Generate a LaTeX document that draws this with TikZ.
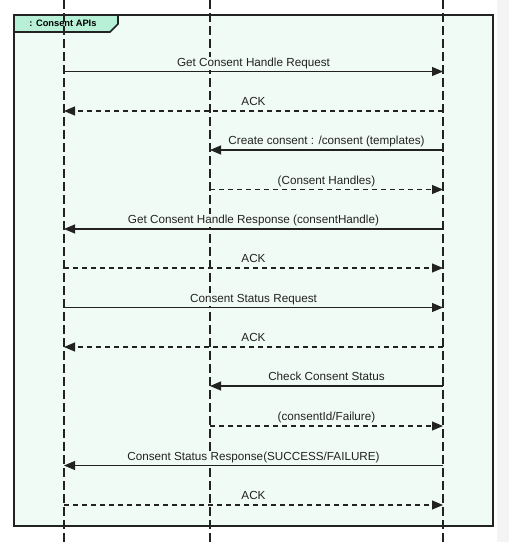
\documentclass[tikz,border=0pt]{standalone}
\usepackage{fontspec}
\setmainfont{Liberation Sans}
\usetikzlibrary{arrows.meta}
\definecolor{framefill}{HTML}{F1FBF6}
\definecolor{tabfill}{HTML}{B7F0D7}
\definecolor{edgegray}{HTML}{F4F4F4}
\definecolor{linedark}{HTML}{222222}
\begin{document}
\begin{tikzpicture}[x=1pt,y=-1pt,
	lifeline/.style={linedark,line width=1.1pt,dash pattern=on 9pt off 4pt},
	msg/.style={linedark,line width=1.1pt,-{Triangle[length=11pt,width=9pt]}},
	reply/.style={msg,dash pattern=on 5pt off 4pt},
	lbl/.style={anchor=base,yshift=5.3pt,inner sep=1pt,fill=framefill,font=\fontsize{11.7}{13}\selectfont}]
	\useasboundingbox (0,0) rectangle (509,542);
	\fill [white] (0,0) rectangle (509,542);
	\fill [edgegray] (497,0) rectangle (509,542);
	% frame and tab
	\draw [linedark,line width=2pt,fill=framefill] (14,15) rectangle (493,526);
	\draw [linedark,line width=1.6pt,fill=tabfill] (14,15) -- (118,15) -- (118,24) -- (110,32) -- (14,32) -- cycle;
	\node [font=\bfseries\fontsize{9.3}{11}\selectfont] (tab) at (63,23.5) {: Consent APIs};
	% lifelines
	\coordinate (At) at (64,0);  \coordinate (Ab) at (64,542);
	\coordinate (Bt) at (210,0); \coordinate (Bb) at (210,542);
	\coordinate (Ct) at (443,0); \coordinate (Cb) at (443,542);
	\draw [lifeline] (At) -- (Ab);
	\draw [lifeline] (Bt) -- (Bb);
	\draw [lifeline] (Ct) -- (Cb);
	% message ends
	\coordinate (A1) at (64,71.5);  \coordinate (C1) at (443,71.5);
	\coordinate (A2) at (64,111);   \coordinate (C2) at (443,111);
	\coordinate (B3) at (210,150);  \coordinate (C3) at (443,150);
	\coordinate (B4) at (210,189.5);\coordinate (C4) at (443,189.5);
	\coordinate (A5) at (64,229);   \coordinate (C5) at (443,229);
	\coordinate (A6) at (64,268);   \coordinate (C6) at (443,268);
	\coordinate (A7) at (64,307.5); \coordinate (C7) at (443,307.5);
	\coordinate (A8) at (64,347);   \coordinate (C8) at (443,347);
	\coordinate (B9) at (210,386);  \coordinate (C9) at (443,386);
	\coordinate (B10) at (210,426); \coordinate (C10) at (443,426);
	\coordinate (A11) at (64,465.5);\coordinate (C11) at (443,465.5);
	\coordinate (A12) at (64,505);  \coordinate (C12) at (443,505);
	% messages
	\draw [msg] (A1) -- node [lbl] {Get Consent Handle Request} (C1);
	\draw [reply] (C2) -- node [lbl] {ACK} (A2);
	\draw [msg] (C3) -- node [lbl] {Create consent : /consent (templates)} (B3);
	\draw [reply] (B4) -- node [lbl] {(Consent Handles)} (C4);
	\draw [msg] (C5) -- node [lbl] {Get Consent Handle Response (consentHandle)} (A5);
	\draw [reply] (A6) -- node [lbl] {ACK} (C6);
	\draw [msg] (A7) -- node [lbl] {Consent Status Request} (C7);
	\draw [reply] (C8) -- node [lbl] {ACK} (A8);
	\draw [msg] (C9) -- node [lbl] {Check Consent Status} (B9);
	\draw [reply] (B10) -- node [lbl] {(consentId/Failure)} (C10);
	\draw [msg] (C11) -- node [lbl] {Consent Status Response(SUCCESS/FAILURE)} (A11);
	\draw [reply] (A12) -- node [lbl] {ACK} (C12);
\end{tikzpicture}
\end{document}
